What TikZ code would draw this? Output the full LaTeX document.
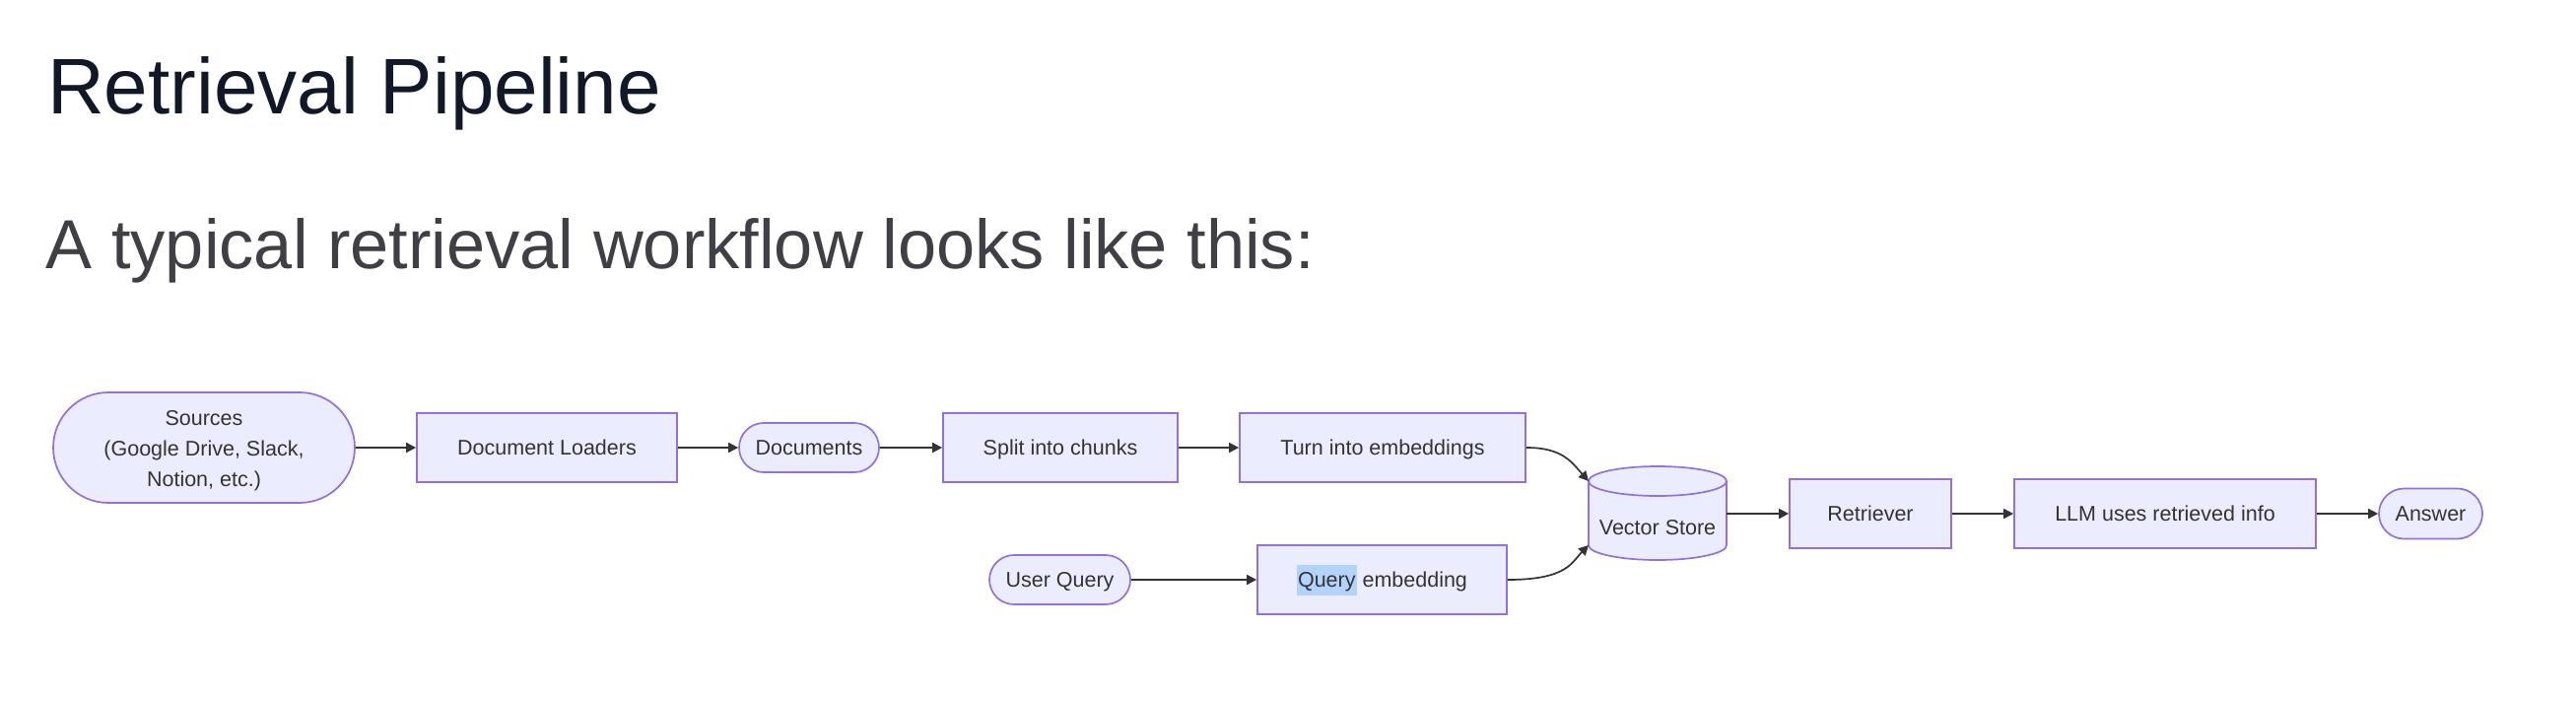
\documentclass[tikz,border=0pt]{standalone}
\usepackage{fontspec}
\setmainfont{Liberation Sans}
\usetikzlibrary{arrows.meta}
\definecolor{nodefill}{HTML}{ECECFF}
\definecolor{nodeline}{HTML}{9370DB}
\definecolor{txt}{HTML}{333333}
\definecolor{titlec}{HTML}{111827}
\definecolor{subc}{HTML}{3F3F46}
\definecolor{hl}{RGB}{178,212,252}
\newcommand{\nfont}{\fontsize{21.5}{31}\selectfont}
\begin{document}
\begin{tikzpicture}[x=1pt,y=-1pt,
  box/.style={draw=nodeline, fill=nodefill, line width=1.7pt, inner sep=0pt, text=txt, font=\nfont, rectangle, text height=15.7pt, text depth=0pt},
  cyl/.style={draw=nodeline, fill=nodefill, line width=1.7pt},
  conn/.style={draw=txt, line width=1.7pt, -{Triangle[length=10pt,width=10pt]}}]
\fill[white] (0,0) rectangle (2614,710);
\useasboundingbox (0,0) rectangle (2614,710);

\node[anchor=base west, inner sep=0pt, text=titlec, font=\fontsize{80}{96}\selectfont] (title) at (48,115) {Retrieval Pipeline};
\node[anchor=base west, inner sep=0pt, text=subc, font=\fontsize{70.4}{84}\selectfont] (sub) at (46.5,272) {A typical retrieval workflow looks like this:};

% top row
\node[box, align=center, text height=, text depth=, minimum width=306pt, minimum height=112pt, rounded corners=56pt] (src) at (207,454) {\rule{0pt}{21.5pt}Sources\\(Google Drive, Slack,\\Notion, etc.)};
\node[box, minimum width=264pt, minimum height=70pt] (dl) at (555,454) {Document Loaders};
\node[box, minimum width=142pt, minimum height=50pt, rounded corners=25pt] (docs) at (821,454) {Documents};
\node[box, minimum width=238pt, minimum height=70pt] (split) at (1076,454) {Split into chunks};
\node[box, minimum width=290pt, minimum height=70pt] (turn) at (1403,454) {Turn into embeddings};

% bottom row
\node[box, minimum width=143pt, minimum height=50pt, rounded corners=25pt] (uq) at (1075.5,588) {User Query};
\node[box, minimum width=253pt, minimum height=70pt] (qe) at (1402.5,588) {{\setlength{\fboxsep}{0pt}\colorbox{hl}{\rule[-0.36em]{0pt}{1.44em}\hspace{1pt}Query\hspace{1pt}}} embedding};

% vector store cylinder
\node[inner sep=0pt, minimum width=140pt, minimum height=95pt] (vs) at (1682,521) {};
\filldraw[cyl] (1612,488) -- (1612,553) arc[start angle=180,end angle=360,x radius=70pt,y radius=15pt] -- (1752,488) arc[start angle=0,end angle=180,x radius=70pt,y radius=15pt] -- cycle;
\draw[cyl, fill=none] (1612,488) arc[start angle=180,end angle=360,x radius=70pt,y radius=15pt];
\node[inner sep=0pt, text=txt, font=\nfont, text height=15.7pt, text depth=0pt] (vslabel) at (1682,535) {Vector Store};
\coordinate (vsin1) at (1612,488);
\coordinate (vsin2) at (1612,553);

% right
\node[box, minimum width=164pt, minimum height=70pt] (ret) at (1898,521) {Retriever};
\node[box, minimum width=306pt, minimum height=70pt] (llm) at (2197,521) {LLM uses retrieved info};
\node[box, minimum width=105pt, minimum height=51pt, rounded corners=25.5pt] (ans) at (2466.5,521) {Answer};

% connectors
\draw[conn] (src) -- (dl);
\draw[conn] (dl) -- (docs);
\draw[conn] (docs) -- (split);
\draw[conn] (split) -- (turn);
\draw[conn] (uq) -- (qe);
\draw[conn] (turn.east) .. controls +(37,0) and +(-17,-19) .. (vsin1);
\draw[conn] (qe.east) .. controls +(61,0) and +(-17,17) .. (vsin2);
\draw[conn] (vs.east) -- (ret.west);
\draw[conn] (ret) -- (llm);
\draw[conn] (llm) -- (ans);
\end{tikzpicture}
\end{document}
